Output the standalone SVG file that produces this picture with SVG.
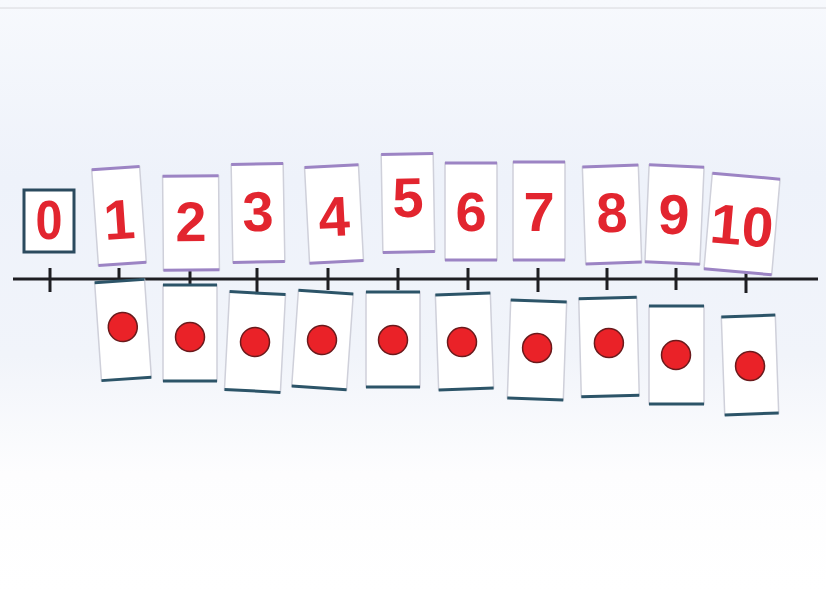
<svg xmlns="http://www.w3.org/2000/svg" width="826" height="592" viewBox="0 0 826 592">
<defs>
<linearGradient id="bg" x1="0" y1="0" x2="0" y2="1">
<stop offset="0" stop-color="#f7f9fd"/>
<stop offset="0.3" stop-color="#eef2fa"/>
<stop offset="0.6" stop-color="#f1f4fa"/>
<stop offset="0.8" stop-color="#fdfdfe"/>
<stop offset="1" stop-color="#ffffff"/>
</linearGradient>
<style>
.card{fill:#ffffff;stroke:#cfd0da;stroke-width:1.5}
.numedge{stroke:#9c84c4;stroke-width:3}
.dotedge{stroke:#2c5468;stroke-width:3}
.num{font-family:"Liberation Sans",Arial,sans-serif;font-weight:bold;font-size:56px;fill:#e2252f;text-anchor:middle}
.dot{fill:#ea2228;stroke:#6a1a1c;stroke-width:1.5}
.line{stroke:#1e1e22;stroke-width:3;fill:none}
</style>
</defs>
<rect width="826" height="592" fill="url(#bg)"/>
<line x1="0" y1="8" x2="826" y2="8" stroke="#d8d8dc" stroke-width="1"/>

<g id="number-line">
<line class="line" x1="13" y1="279" x2="818" y2="279"/>
<path class="line" d="M50 268V292M119 268V290M190 268V290M257 268V292M328 268V290M398 268V290M468 268V290M538 268V292M607 268V290M676 268V290M746 268V293"/>
</g>

<g id="card-0">
<rect x="24" y="190" width="50" height="62" fill="#ffffff" stroke="#2b4a5e" stroke-width="3"/>
<text class="num" x="49" y="239" font-size="52" textLength="27" lengthAdjust="spacingAndGlyphs">0</text>
</g>

<g id="card-1" transform="translate(119,216) rotate(-4)">
<rect class="card" x="-24" y="-48" width="48" height="96"/>
<line class="numedge" x1="-24" y1="-48" x2="24" y2="-48"/><line class="numedge" x1="-24" y1="48" x2="24" y2="48"/>
<text class="num" x="0" y="23" font-size="62">1</text>
</g>
<g id="card-2" transform="translate(191,223) rotate(-0.5)">
<rect class="card" x="-28" y="-47" width="56" height="94"/>
<line class="numedge" x1="-28" y1="-47" x2="28" y2="-47"/><line class="numedge" x1="-28" y1="47" x2="28" y2="47"/>
<text class="num" x="0" y="18">2</text>
</g>
<g id="card-3" transform="translate(258,213) rotate(-1)">
<rect class="card" x="-26" y="-49" width="52" height="98"/>
<line class="numedge" x1="-26" y1="-49" x2="26" y2="-49"/><line class="numedge" x1="-26" y1="49" x2="26" y2="49"/>
<text class="num" x="0" y="18">3</text>
</g>
<g id="card-4" transform="translate(334,214) rotate(-3)">
<rect class="card" x="-27" y="-48" width="54" height="96"/>
<line class="numedge" x1="-27" y1="-48" x2="27" y2="-48"/><line class="numedge" x1="-27" y1="48" x2="27" y2="48"/>
<text class="num" x="0" y="22">4</text>
</g>
<g id="card-5" transform="translate(408,203) rotate(-1)">
<rect class="card" x="-26" y="-49" width="52" height="98"/>
<line class="numedge" x1="-26" y1="-49" x2="26" y2="-49"/><line class="numedge" x1="-26" y1="49" x2="26" y2="49"/>
<text class="num" x="0" y="14">5</text>
</g>
<g id="card-6" transform="translate(471,211) rotate(0)">
<rect class="card" x="-26" y="-48" width="52" height="97"/>
<line class="numedge" x1="-26" y1="-48" x2="26" y2="-48"/><line class="numedge" x1="-26" y1="49" x2="26" y2="49"/>
<text class="num" x="0" y="20">6</text>
</g>
<g id="card-7" transform="translate(539,211) rotate(0)">
<rect class="card" x="-26" y="-49" width="52" height="98"/>
<line class="numedge" x1="-26" y1="-49" x2="26" y2="-49"/><line class="numedge" x1="-26" y1="49" x2="26" y2="49"/>
<text class="num" x="0" y="20">7</text>
</g>
<g id="card-8" transform="translate(612,214) rotate(-2)">
<rect class="card" x="-28" y="-48" width="56" height="97"/>
<line class="numedge" x1="-28" y1="-48" x2="28" y2="-48"/><line class="numedge" x1="-28" y1="49" x2="28" y2="49"/>
<text class="num" x="0" y="18">8</text>
</g>
<g id="card-9" transform="translate(674,214) rotate(2.5)">
<rect class="card" x="-27" y="-48" width="55" height="97"/>
<line class="numedge" x1="-27" y1="-48" x2="28" y2="-48"/><line class="numedge" x1="-27" y1="49" x2="28" y2="49"/>
<text class="num" x="0" y="20">9</text>
</g>
<g id="card-10" transform="translate(742,224) rotate(5)">
<rect class="card" x="-34" y="-48" width="68" height="96"/>
<line class="numedge" x1="-34" y1="-48" x2="34" y2="-48"/><line class="numedge" x1="-34" y1="48" x2="34" y2="48"/>
<text class="num" x="0" y="21" font-size="62" textLength="63" lengthAdjust="spacingAndGlyphs">10</text>
</g>

<g id="dot-card-1" transform="translate(123,330) rotate(-4)">
<rect class="card" x="-25" y="-49" width="50" height="98"/>
<line class="dotedge" x1="-25" y1="-49" x2="25" y2="-49"/><line class="dotedge" x1="-25" y1="49" x2="25" y2="49"/>
<circle class="dot" cx="0" cy="-3" r="14.5"/>
</g>
<g id="dot-card-2" transform="translate(190,333) rotate(0)">
<rect class="card" x="-27" y="-48" width="54" height="96"/>
<line class="dotedge" x1="-27" y1="-48" x2="27" y2="-48"/><line class="dotedge" x1="-27" y1="48" x2="27" y2="48"/>
<circle class="dot" cx="0" cy="4" r="14.5"/>
</g>
<g id="dot-card-3" transform="translate(255,342) rotate(3)">
<rect class="card" x="-28" y="-49" width="56" height="98"/>
<line class="dotedge" x1="-28" y1="-49" x2="28" y2="-49"/><line class="dotedge" x1="-28" y1="49" x2="28" y2="49"/>
<circle class="dot" cx="0" cy="0" r="14.5"/>
</g>
<g id="dot-card-4" transform="translate(322,340) rotate(4)">
<rect class="card" x="-27" y="-48" width="55" height="96"/>
<line class="dotedge" x1="-27" y1="-48" x2="28" y2="-48"/><line class="dotedge" x1="-27" y1="48" x2="28" y2="48"/>
<circle class="dot" cx="0" cy="0" r="14.5"/>
</g>
<g id="dot-card-5" transform="translate(393,340) rotate(0)">
<rect class="card" x="-27" y="-48" width="54" height="95"/>
<line class="dotedge" x1="-27" y1="-48" x2="27" y2="-48"/><line class="dotedge" x1="-27" y1="47" x2="27" y2="47"/>
<circle class="dot" cx="0" cy="0" r="14.5"/>
</g>
<g id="dot-card-6" transform="translate(464,342) rotate(-2)">
<rect class="card" x="-27" y="-48" width="55" height="95"/>
<line class="dotedge" x1="-27" y1="-48" x2="28" y2="-48"/><line class="dotedge" x1="-27" y1="47" x2="28" y2="47"/>
<circle class="dot" cx="-2" cy="0" r="14.5"/>
</g>
<g id="dot-card-7" transform="translate(537,350) rotate(2)">
<rect class="card" x="-28" y="-49" width="56" height="98"/>
<line class="dotedge" x1="-28" y1="-49" x2="28" y2="-49"/><line class="dotedge" x1="-28" y1="49" x2="28" y2="49"/>
<circle class="dot" cx="0" cy="-2" r="14.5"/>
</g>
<g id="dot-card-8" transform="translate(609,347) rotate(-1.5)">
<rect class="card" x="-29" y="-49" width="58" height="98"/>
<line class="dotedge" x1="-29" y1="-49" x2="29" y2="-49"/><line class="dotedge" x1="-29" y1="49" x2="29" y2="49"/>
<circle class="dot" cx="0" cy="-4" r="14.5"/>
</g>
<g id="dot-card-9" transform="translate(676,355) rotate(0)">
<rect class="card" x="-27" y="-49" width="55" height="98"/>
<line class="dotedge" x1="-27" y1="-49" x2="28" y2="-49"/><line class="dotedge" x1="-27" y1="49" x2="28" y2="49"/>
<circle class="dot" cx="0" cy="0" r="14.5"/>
</g>
<g id="dot-card-10" transform="translate(750,365) rotate(-2)">
<rect class="card" x="-27" y="-49" width="54" height="98"/>
<line class="dotedge" x1="-27" y1="-49" x2="27" y2="-49"/><line class="dotedge" x1="-27" y1="49" x2="27" y2="49"/>
<circle class="dot" cx="0" cy="1" r="14.5"/>
</g>
</svg>
